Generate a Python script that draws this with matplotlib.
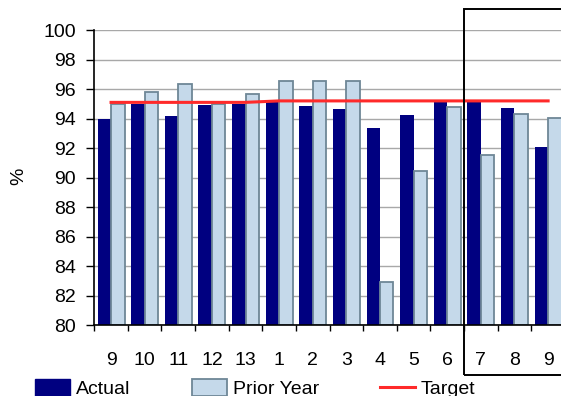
import numpy as np
import matplotlib.pyplot as plt
import matplotlib.transforms as mtransforms
from matplotlib.patches import Rectangle, Patch
from matplotlib.lines import Line2D

plt.rcParams['font.family'] = ['Liberation Sans', 'DejaVu Sans']

# Monthly performance (%)
months = ['9', '10', '11', '12', '13', '1', '2', '3', '4', '5', '6', '7', '8', '9']
actual = [94.0, 95.0, 94.2, 94.9, 95.0, 95.1, 94.85, 94.65, 93.35, 94.25, 95.1, 95.1, 94.7, 92.1]
prior_year = [95.0, 95.8, 96.35, 95.0, 95.7, 96.55, 96.55, 96.55, 82.95, 90.45, 94.8, 91.5, 94.3, 94.05]
target = [95.1, 95.1, 95.1, 95.1, 95.1, 95.2, 95.2, 95.2, 95.2, 95.2, 95.2, 95.2, 95.2, 95.2]

navy = '#000080'
light = '#c5d9ea'
edge = '#6e8796'

fig = plt.figure(figsize=(5.61, 3.96), dpi=100)
ax = fig.add_axes([0.168, 0.179, 0.839, 0.745])

x = np.arange(len(months))
w = 0.4
ax.bar(x - w / 2, np.array(actual) - 80, w, bottom=80, color=navy, zorder=2)
ax.bar(x + w / 2, np.array(prior_year) - 80, w, bottom=80, color=light,
       edgecolor=edge, linewidth=1.3, zorder=2)
ax.plot(x, target, color='#ff2a2a', linewidth=2.2, zorder=3)

ax.set_ylim(80, 100)
ax.set_xlim(-0.5, len(months) - 0.5)
ax.set_yticks(np.arange(80, 101, 2))
ax.yaxis.grid(True, color='#a8a8a8', linewidth=1, zorder=0)
ax.set_axisbelow(True)

ax.set_xticks(x)
ax.set_xticklabels(months)
ax.set_xticks(np.arange(-0.5, len(months), 1), minor=True)
ax.tick_params(axis='x', which='major', length=0, pad=19, labelsize=14)
ax.tick_params(axis='x', which='minor', length=4, width=1, direction='out')
ax.tick_params(axis='y', length=6, width=1, direction='out', pad=7, labelsize=14)

for s in ['top', 'right']:
    ax.spines[s].set_visible(False)
for s in ['left', 'bottom']:
    ax.spines[s].set_linewidth(1.2)

fig.text(0.034, 0.555, '%', rotation=90, fontsize=14, ha='center', va='center')

# Highlight box round the latest three months
trans = mtransforms.blended_transform_factory(ax.transData, fig.transFigure)
box = Rectangle((10.5, 0.052), 5, 0.925, transform=trans, fill=False,
                edgecolor='black', linewidth=1.4, clip_on=False)
fig.add_artist(box)

handles = [Patch(facecolor=navy, edgecolor=navy),
           Patch(facecolor=light, edgecolor=edge, linewidth=1.3),
           Line2D([], [], color='#ff2a2a', linewidth=2.2)]
fig.legend(handles, ['Actual', 'Prior Year', 'Target'], ncol=3, frameon=False,
           loc='center left', bbox_to_anchor=(0.063, 0.018), fontsize=14,
           handlelength=1.8, handleheight=0.9, handletextpad=0.3,
           columnspacing=3.15, borderpad=0, borderaxespad=0)

fig.savefig('out.png', dpi=100)
